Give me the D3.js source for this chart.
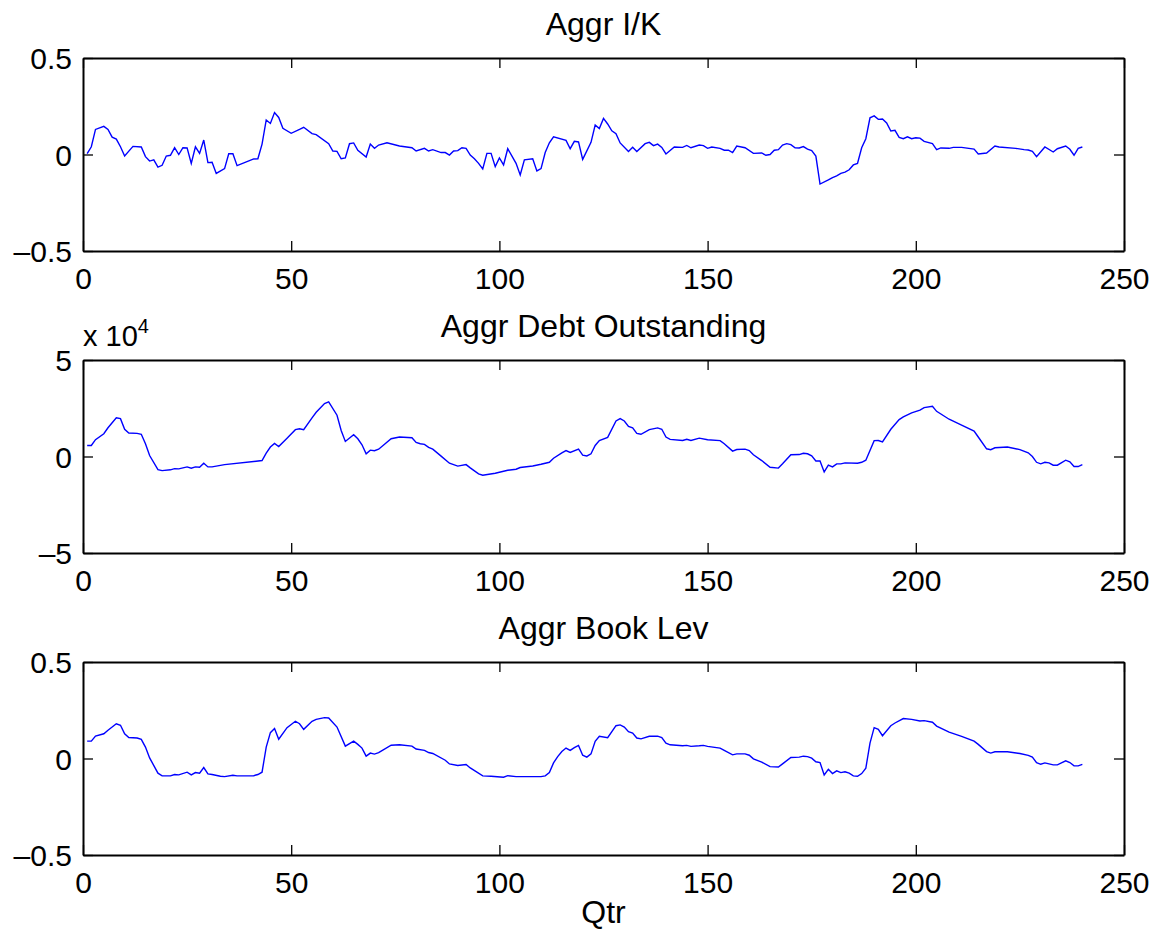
<!DOCTYPE html>
<html>
<head>
<meta charset="utf-8">
<script src="https://cdn.jsdelivr.net/npm/d3@7"></script>
<style>
  body { margin: 0; background: #fff; }
  svg text { font-family: "Liberation Sans", Arial, Helvetica, sans-serif; fill: #000; }
</style>
</head>
<body>
<svg id="canvas" width="1158" height="937"></svg>
<script>
// quarter, value pairs
var aggrIK = [[1,0.004],[2,0.04],[3,0.13],[5,0.146],[6,0.13],[7,0.09],[8,0.08],[9,0.04],[10,-0.008],[12,0.042],[14,0.039],[15,-0.011],[16,-0.034],[17,-0.028],[18,-0.065],[19,-0.056],[20,-0.008],[21,-0.004],[22,0.035],[23,0],[24,0.035],[25,0.034],[26,-0.046],[27,0.04],[28,0.006],[29,0.075],[30,-0.042],[31,-0.04],[32,-0.098],[34,-0.073],[35,0.004],[36,0.004],[37,-0.058],[41,-0.023],[42,-0.022],[43,0.054],[44,0.179],[45,0.161],[46,0.217],[47,0.192],[48,0.136],[50,0.11],[52,0.13],[53,0.141],[55,0.108],[56,0.103],[59,0.056],[60,0.018],[61,0.016],[62,-0.022],[63,-0.018],[64,0.056],[65,0.06],[66,0.022],[68,-0.013],[69,0.054],[70,0.032],[71,0.049],[73,0.061],[76,0.044],[79,0.035],[80,0.018],[82,0.032],[83,0.018],[84,0.025],[86,0.01],[87,0.01],[88,-0.003],[89,0.018],[90,0.02],[91,0.035],[92,0.032],[93,-0.003],[94,-0.022],[95,-0.046],[96,-0.075],[97,0.006],[98,0.006],[99,-0.063],[100,-0.018],[101,-0.054],[102,0.03],[104,-0.046],[105,-0.106],[106,-0.028],[108,-0.022],[109,-0.085],[110,-0.073],[111,0.01],[112,0.061],[113,0.092],[116,0.073],[117,0.03],[118,0.068],[119,0.065],[120,-0.025],[122,0.063],[123,0.153],[124,0.134],[125,0.187],[126,0.158],[127,0.123],[128,0.108],[129,0.06],[131,0.016],[132,0.037],[133,0.015],[135,0.056],[136,0.063],[137,0.046],[138,0.054],[139,0.037],[140,0.003],[142,0.039],[144,0.037],[145,0.047],[146,0.035],[148,0.049],[149,0.046],[150,0.032],[151,0.039],[153,0.032],[154,0.022],[155,0.022],[156,0.01],[157,0.044],[159,0.035],[161,0.006],[163,0.008],[164,-0.004],[165,0],[166,0.022],[167,0.025],[168,0.049],[169,0.056],[170,0.051],[171,0.035],[172,0.034],[173,0.041],[174,0.028],[175,0.02],[176,-0.008],[177,-0.153],[179,-0.132],[180,-0.12],[181,-0.111],[182,-0.098],[183,-0.091],[184,-0.079],[185,-0.054],[186,-0.046],[187,0.035],[188,0.082],[189,0.19],[190,0.2],[191,0.182],[192,0.184],[193,0.163],[194,0.122],[195,0.125],[196,0.089],[197,0.082],[198,0.092],[199,0.082],[200,0.087],[201,0.085],[202,0.068],[204,0.056],[205,0.025],[206,0.034],[208,0.032],[209,0.037],[211,0.037],[214,0.028],[215,0.003],[217,0.008],[219,0.044],[220,0.039],[224,0.032],[226,0.025],[227,0.023],[228,0.016],[229,-0.011],[231,0.039],[233,0.013],[234,0.03],[236,0.044],[237,0.027],[238,-0.004],[239,0.032],[240,0.039]];

// in units of 10^4
var aggrDebt = [[1,0.57],[2,0.57],[3,0.87],[5,1.18],[6,1.49],[8,2.01],[9,1.96],[10,1.41],[11,1.22],[13,1.2],[14,1.15],[15,0.66],[16,0.05],[18,-0.68],[19,-0.73],[21,-0.69],[22,-0.63],[23,-0.64],[25,-0.54],[26,-0.61],[27,-0.54],[28,-0.56],[29,-0.35],[30,-0.54],[31,-0.54],[34,-0.42],[43,-0.21],[44,0.17],[45,0.49],[46,0.68],[47,0.52],[49,0.95],[51,1.39],[52,1.44],[53,1.39],[55,2.0],[56,2.29],[58,2.74],[59,2.83],[61,2.14],[62,1.35],[63,0.78],[65,1.13],[66,0.92],[67,0.61],[68,0.14],[69,0.33],[70,0.3],[71,0.38],[74,0.92],[76,1.01],[79,0.97],[80,0.73],[81,0.66],[82,0.63],[83,0.47],[84,0.38],[86,0.02],[88,-0.35],[90,-0.5],[92,-0.42],[93,-0.59],[95,-0.9],[96,-0.97],[99,-0.87],[102,-0.71],[104,-0.66],[105,-0.57],[108,-0.49],[110,-0.4],[112,-0.3],[113,-0.09],[115,0.19],[116,0.31],[117,0.21],[119,0.38],[120,0.07],[121,0.03],[122,0.14],[123,0.57],[124,0.83],[126,0.99],[128,1.84],[129,1.96],[130,1.84],[131,1.56],[132,1.48],[133,1.2],[134,1.15],[136,1.39],[138,1.48],[139,1.41],[140,1.01],[141,0.89],[144,0.83],[145,0.89],[146,0.83],[148,0.95],[150,0.87],[153,0.82],[154,0.66],[156,0.28],[157,0.36],[159,0.38],[160,0.31],[161,0.09],[163,-0.21],[165,-0.56],[167,-0.6],[168,-0.38],[170,0.09],[172,0.1],[173,0.17],[174,0.14],[175,0.03],[176,-0.23],[177,-0.23],[178,-0.8],[179,-0.45],[180,-0.54],[181,-0.38],[182,-0.38],[183,-0.33],[186,-0.35],[187,-0.3],[188,-0.19],[190,0.82],[191,0.83],[192,0.76],[194,1.41],[196,1.91],[197,2.05],[199,2.26],[201,2.4],[202,2.53],[204,2.6],[205,2.34],[208,1.93],[211,1.63],[214,1.32],[215,1.01],[217,0.4],[218,0.35],[219,0.45],[222,0.49],[225,0.36],[227,0.19],[228,0],[229,-0.3],[230,-0.38],[231,-0.3],[232,-0.33],[233,-0.45],[234,-0.45],[236,-0.19],[237,-0.28],[238,-0.52],[239,-0.52],[240,-0.42]];

var aggrBookLev = [[1,0.09],[2,0.09],[3,0.116],[5,0.128],[6,0.146],[8,0.18],[9,0.172],[10,0.128],[11,0.109],[13,0.106],[14,0.099],[15,0.059],[16,0.003],[18,-0.076],[19,-0.09],[21,-0.09],[22,-0.083],[23,-0.085],[25,-0.071],[26,-0.085],[27,-0.073],[28,-0.076],[29,-0.047],[30,-0.08],[31,-0.083],[33,-0.092],[34,-0.094],[36,-0.087],[37,-0.09],[41,-0.089],[42,-0.083],[43,-0.071],[44,0.059],[45,0.134],[46,0.155],[47,0.1],[49,0.16],[51,0.193],[52,0.18],[53,0.151],[55,0.193],[56,0.203],[58,0.212],[59,0.21],[61,0.163],[63,0.064],[65,0.09],[66,0.073],[67,0.054],[68,0.012],[69,0.028],[70,0.023],[71,0.03],[74,0.069],[76,0.071],[79,0.064],[80,0.049],[82,0.042],[83,0.031],[84,0.026],[87,-0.009],[88,-0.028],[90,-0.036],[92,-0.031],[93,-0.049],[96,-0.09],[98,-0.092],[101,-0.097],[102,-0.089],[104,-0.094],[108,-0.094],[110,-0.094],[111,-0.09],[112,-0.073],[113,-0.023],[114,0.01],[115,0.036],[116,0.054],[117,0.042],[118,0.056],[119,0.068],[120,0.017],[121,0.007],[122,0.024],[123,0.089],[124,0.115],[126,0.108],[128,0.17],[129,0.174],[130,0.163],[131,0.139],[132,0.132],[133,0.106],[134,0.102],[136,0.115],[138,0.116],[139,0.108],[140,0.08],[141,0.071],[144,0.066],[145,0.068],[146,0.063],[148,0.066],[149,0.068],[150,0.063],[153,0.054],[154,0.042],[156,0.019],[157,0.024],[159,0.024],[160,0.017],[161,-0.002],[163,-0.019],[165,-0.042],[167,-0.044],[168,-0.028],[170,0.005],[172,0.007],[173,0.012],[174,0.01],[175,0.002],[176,-0.017],[177,-0.021],[178,-0.085],[179,-0.056],[180,-0.078],[181,-0.064],[182,-0.073],[183,-0.069],[184,-0.076],[185,-0.09],[186,-0.092],[187,-0.078],[188,-0.05],[189,0.08],[190,0.16],[191,0.151],[192,0.118],[194,0.17],[195,0.184],[197,0.207],[199,0.203],[201,0.194],[202,0.196],[204,0.188],[205,0.168],[208,0.137],[211,0.115],[214,0.09],[215,0.073],[217,0.036],[218,0.028],[219,0.035],[222,0.035],[225,0.026],[227,0.016],[228,0.007],[229,-0.021],[230,-0.03],[231,-0.023],[233,-0.033],[234,-0.033],[236,-0.012],[237,-0.021],[238,-0.038],[239,-0.038],[240,-0.03]];

var xTicks = [0, 50, 100, 150, 200, 250];
var titles = ["Aggr I/K", "Aggr Debt Outstanding", "Aggr Book Lev"];
var yDomains = [[-0.5, 0.5], [-5, 5], [-0.5, 0.5]];
var yTicks = [[-0.5, 0, 0.5], [-5, 0, 5], [-0.5, 0, 0.5]];
var series = [aggrIK, aggrDebt, aggrBookLev];

var left = 83, right = 1124;
var panelTops = [58, 360, 662];
var panelH = 193;
var tickFont = 30, titleFont = 32;
var canvas = d3.select("#canvas");

var x = d3.scaleLinear().domain([0, 250]).range([left, right]);

function fmt(d) {
  return (d < 0 ? "\u2013" : "") + Math.abs(d);
}

panelTops.forEach(function(top, i) {
  var y = d3.scaleLinear().domain(yDomains[i]).range([top + panelH, top]);
  var g = canvas.append("g");

  // line
  g.append("path")
    .datum(series[i])
    .attr("fill", "none")
    .attr("stroke", "#0000ff")
    .attr("stroke-width", 1.4)
    .attr("d", d3.line()
      .x(function(d) { return x(d[0]); })
      .y(function(d) { return y(d[1]); }));

  // bottom axis with labels
  var xb = g.append("g")
    .attr("transform", "translate(0," + (top + panelH) + ")")
    .call(d3.axisBottom(x).tickValues(xTicks).tickSizeInner(-10).tickSizeOuter(0).tickFormat(fmt));
  // top axis, ticks only
  var xt = g.append("g")
    .attr("transform", "translate(0," + top + ")")
    .call(d3.axisTop(x).tickValues(xTicks).tickSizeInner(-10).tickSizeOuter(0).tickFormat(""));
  var yl = g.append("g")
    .attr("transform", "translate(" + left + ",0)")
    .call(d3.axisLeft(y).tickValues(yTicks[i]).tickSizeInner(-10).tickSizeOuter(0).tickPadding(11).tickFormat(fmt));
  var yr = g.append("g")
    .attr("transform", "translate(" + right + ",0)")
    .call(d3.axisRight(y).tickValues(yTicks[i]).tickSizeInner(-10).tickSizeOuter(0).tickFormat(""));

  [xb, xt, yl, yr].forEach(function(a) {
    a.select(".domain").attr("stroke", "#000").attr("stroke-width", 2);
    a.selectAll(".tick line").attr("stroke", "#000").attr("stroke-width", 1.3);
    a.selectAll("text").attr("font-size", tickFont).attr("fill", "#000")
      .style("font-family", '"Liberation Sans", Arial, Helvetica, sans-serif');
  });
  xb.selectAll(".tick text").attr("y", 38).attr("dy", 0);
  yl.selectAll(".tick text").attr("dy", "0.36em");

  // title
  canvas.append("text")
    .attr("x", (left + right) / 2)
    .attr("y", top - 23)
    .attr("text-anchor", "middle")
    .attr("font-size", titleFont)
    .text(titles[i]);
});

// exponent label for middle panel
var expo = canvas.append("text")
  .attr("x", left)
  .attr("y", 346)
  .attr("font-size", tickFont - 1);
expo.append("tspan").text("x 10");
expo.append("tspan").attr("font-size", 20).attr("dy", -13).text("4");

// x axis title
canvas.append("text")
  .attr("x", (left + right) / 2)
  .attr("y", 923)
  .attr("text-anchor", "middle")
  .attr("font-size", titleFont)
  .text("Qtr");
</script>
</body>
</html>
